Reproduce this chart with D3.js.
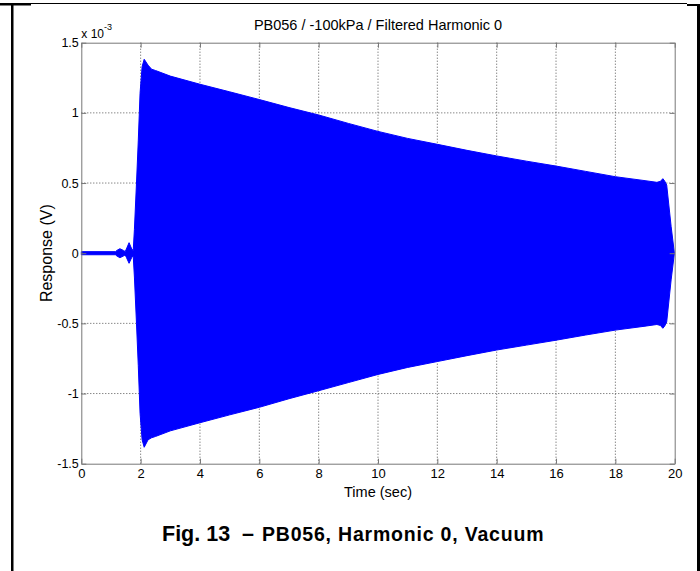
<!DOCTYPE html>
<html lang="en">
<head>
  <meta charset="UTF-8">
  <title>PB056 / -100kPa / Filtered Harmonic 0</title>
  <script src="https://d3js.org/d3.v7.min.js"></script>
  <style type="text/css">
    body { margin: 0; background: #fff; }
    svg { display: block; font-family: "Liberation Sans", Arial, sans-serif; }
    .axis text { font-size: 12.5px; fill: #000; }
    .axis path, .axis line { stroke: #777; }
    .grid line { stroke: #555; stroke-dasharray: 1,2; }
  </style>
</head>
<body>
<svg width="700" height="571"></svg>
<script type="text/javascript">
  // envelope of the filtered response (values in x 10^-3 V)
  let time = [0, 1.15, 1.2, 1.3, 1.42, 1.48, 1.52, 1.61, 1.70, 1.75,
    1.79, 1.86, 1.92, 1.98, 2.05, 2.12, 2.25, 2.37, 2.5, 3,
    4, 5, 6, 7, 8, 9, 10, 11, 12, 13,
    14, 15, 16, 17, 18, 19, 19.4, 19.52, 19.6, 19.66,
    19.73, 19.88, 19.99];
  let upper = [0.011, 0.011, 0.02, 0.032, 0.02, 0.012, 0.03, 0.075, 0.03, 0.02,
    0.17, 0.5, 0.8, 1.14, 1.33, 1.382, 1.34, 1.311, 1.302, 1.262,
    1.204, 1.15, 1.095, 1.038, 0.985, 0.925, 0.868, 0.818, 0.776, 0.733,
    0.693, 0.656, 0.621, 0.583, 0.545, 0.517, 0.505, 0.512, 0.531, 0.515,
    0.486, 0.19, 0];
  let lower = [-0.011, -0.011, -0.02, -0.032, -0.02, -0.012, -0.03, -0.072, -0.03, -0.02,
    -0.17, -0.5, -0.8, -1.14, -1.33, -1.383, -1.33, -1.315, -1.306, -1.266,
    -1.208, -1.152, -1.098, -1.037, -0.98, -0.922, -0.864, -0.814, -0.772, -0.73,
    -0.69, -0.655, -0.62, -0.583, -0.548, -0.52, -0.508, -0.515, -0.535, -0.52,
    -0.49, -0.19, 0];
  let xTicks = [0, 2, 4, 6, 8, 10, 12, 14, 16, 18, 20];
  let yTicks = [-1.5, -1, -0.5, 0, 0.5, 1, 1.5];

  let svg = d3.select("svg");

  let x = d3.scaleLinear().domain([0, 20]).range([81.3, 674.7]);
  let y = d3.scaleLinear().domain([-1.5, 1.5]).range([463.7, 42.7]);

  // document frame around the figure
  svg.append("line").attr("x1", 0).attr("x2", 687).attr("y1", 3.5).attr("y2", 3.5)
    .attr("stroke", "#000").attr("stroke-width", 1);
  svg.append("rect").attr("x", 0).attr("y", 4).attr("width", 31).attr("height", 1.5).attr("fill", "#000");
  svg.append("rect").attr("x", 11).attr("y", 4).attr("width", 2.5).attr("height", 567).attr("fill", "#000");
  svg.append("rect").attr("x", 687).attr("y", 4).attr("width", 13).attr("height", 2).attr("fill", "#000");
  svg.append("rect").attr("x", 697).attr("y", 4).attr("width", 3).attr("height", 567).attr("fill", "#000");

  // grid
  let grid = svg.append("g").attr("class", "grid");
  grid.selectAll("line.gx")
    .data(xTicks.slice(1, -1))
    .enter().append("line")
    .attr("x1", d => x(d)).attr("x2", d => x(d))
    .attr("y1", y(1.5)).attr("y2", y(-1.5));
  grid.selectAll("line.gy")
    .data(yTicks.slice(1, -1))
    .enter().append("line")
    .attr("x1", x(0)).attr("x2", x(20))
    .attr("y1", d => y(d)).attr("y2", d => y(d));

  // signal envelope
  let pts = time.map((t, i) => ({ t: t, hi: upper[i], lo: lower[i] }));
  let area = d3.area()
    .x(d => x(d.t))
    .y0(d => y(d.lo))
    .y1(d => y(d.hi));
  svg.append("path")
    .datum(pts)
    .attr("d", area)
    .attr("fill", "#0000ff")
    .attr("stroke", "#0000ff")
    .attr("stroke-width", 1)
    .attr("stroke-linejoin", "round");

  // axes (ticks inside, MATLAB style)
  svg.append("g")
    .attr("class", "axis")
    .attr("transform", "translate(0," + y(-1.5) + ")")
    .call(d3.axisBottom(x).tickValues(xTicks).tickSizeInner(-5).tickSizeOuter(0).tickPadding(5).tickFormat(d3.format("d")))
    .call(g => g.selectAll("text").style("font-size", "13px"));
  svg.append("g")
    .attr("class", "axis")
    .attr("transform", "translate(0," + y(1.5) + ")")
    .call(d3.axisTop(x).tickValues(xTicks).tickSizeInner(-5).tickSizeOuter(0).tickFormat(""));
  svg.append("g")
    .attr("class", "axis")
    .attr("transform", "translate(" + x(0) + ",0)")
    .call(d3.axisLeft(y).tickValues(yTicks).tickSizeInner(-5).tickSizeOuter(0).tickPadding(2.5).tickFormat(d3.format("")));
  svg.append("g")
    .attr("class", "axis")
    .attr("transform", "translate(" + x(20) + ",0)")
    .call(d3.axisRight(y).tickValues(yTicks).tickSizeInner(-5).tickSizeOuter(0).tickFormat(""));
  svg.selectAll(".axis text").text(function () { return this.textContent.replace("\u2212", "-"); });

  // exponent label
  let expo = svg.append("text")
    .attr("x", x(0))
    .attr("y", 38.3)
    .style("font-size", "12px");
  expo.append("tspan").text("x 10");
  expo.append("tspan").attr("dy", -8).style("font-size", "9px").text("-3");

  // title and axis labels
  svg.append("text")
    .attr("x", (x(0) + x(20)) / 2)
    .attr("y", 29.5)
    .attr("text-anchor", "middle")
    .style("font-size", "14.5px")
    .text("PB056 / -100kPa / Filtered Harmonic 0");
  svg.append("text")
    .attr("x", (x(0) + x(20)) / 2)
    .attr("y", 497)
    .attr("text-anchor", "middle")
    .style("font-size", "14.5px")
    .text("Time (sec)");
  svg.append("text")
    .attr("transform", "translate(52," + y(0) + ") rotate(-90)")
    .attr("text-anchor", "middle")
    .style("font-size", "16px")
    .text("Response (V)");

  // figure caption
  let cap = svg.append("text")
    .attr("y", 541)
    .style("font-weight", "bold")
    .style("font-family", "'Liberation Sans', Arial, sans-serif");
  cap.append("tspan").attr("x", 162).style("font-size", "21.5px").text("Fig. 13");
  cap.append("tspan").attr("x", 242).style("font-size", "21.5px").text("\u2013");
  cap.append("tspan").attr("x", 262).style("font-size", "19.5px").style("letter-spacing", "0.8px")
    .text("PB056, Harmonic 0, Vacuum");
</script>
</body>
</html>
